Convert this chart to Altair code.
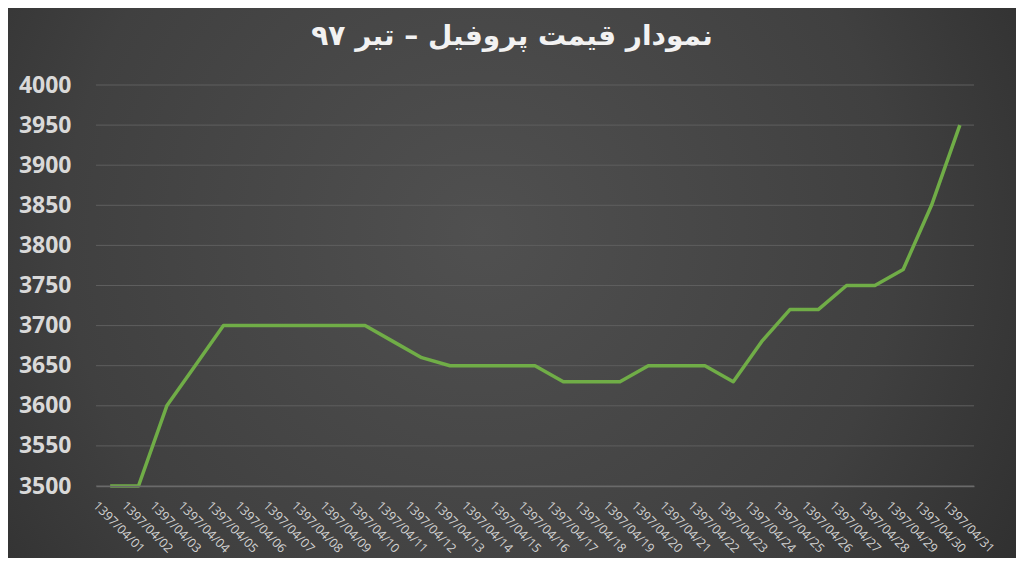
import altair as alt
import pandas as pd

dates = [f"1397/04/{d:02d}" for d in range(1, 32)]
prices = [3500, 3500, 3600, 3650, 3700, 3700, 3700, 3700, 3700, 3700,
          3680, 3660, 3650, 3650, 3650, 3650, 3630, 3630, 3630, 3650,
          3650, 3650, 3630, 3680, 3720, 3720, 3750, 3750, 3770, 3850, 3950]
y_ticks = list(range(3500, 4001, 50))
title_text = "نمودار قیمت پروفیل – تیر ۹۷"

df = pd.DataFrame({"date": dates, "price": prices})
bg_df = pd.DataFrame({"k": [0]})
grid_df = pd.DataFrame({"price": y_ticks})
title_df = pd.DataFrame({"t": [title_text]})

W, H = 878, 401
PL, PT, PR, PB = 88, 77, 42, 72

yscale = alt.Scale(domain=[3500, 4000], nice=False, zero=False)
yaxis = alt.Axis(
    title=None,
    values=y_ticks,
    format="d",
    labelFont="Open Sans",
    labelFontSize=23,
    labelFontWeight="bold",
    labelColor="#d9d9d9",
    labelPadding=25,
    ticks=False,
    domain=False,
    grid=False,
    zindex=1,
)

bg = alt.Chart(bg_df).mark_rect(
    clip=False,
    fill={
        "gradient": "radial",
        "x1": 0.47, "y1": 0.45, "r1": 0,
        "x2": 0.47, "y2": 0.45, "r2": 0.75,
        "stops": [
            {"offset": 0, "color": "#505050"},
            {"offset": 0.55, "color": "#404040"},
            {"offset": 1, "color": "#262626"},
        ],
    },
).encode(
    x=alt.value(-PL), x2=alt.value(W + PR),
    y=alt.value(-PT), y2=alt.value(H + PB),
)

grid = alt.Chart(grid_df).mark_rule(color="#5e5e5e", strokeWidth=1).encode(
    y=alt.Y("price:Q", scale=yscale, axis=yaxis),
    x=alt.value(0), x2=alt.value(W),
)

line = alt.Chart(df).mark_line(
    color="#70ad47", strokeWidth=3.5, strokeJoin="round"
).encode(
    x=alt.X(
        "date:O",
        sort=dates,
        scale=alt.Scale(type="point", padding=0.5),
        axis=alt.Axis(
            title=None,
            labelAngle=45,
            labelAlign="left",
            labelBaseline="top",
            labelOffset=-11,
            labelPadding=13,
            labelFont="Open Sans",
            labelFontSize=12.5,
            labelColor="#d4d4d4",
            ticks=False,
            domain=True,
            domainColor="#6a6a6a",
            domainWidth=1.5,
            grid=False,
            zindex=1,
        ),
    ),
    y=alt.Y("price:Q", scale=yscale, axis=yaxis),
)

title = alt.Chart(title_df).mark_text(
    font="DejaVu Sans",
    fontSize=28,
    fontWeight="bold",
    color="#f2f2f2",
    align="center",
    baseline="middle",
).encode(
    text="t:N",
    x=alt.value(W / 2 - 23),
    y=alt.value(-48),
)

chart = alt.layer(bg, grid, line, title).properties(
    width=W,
    height=H,
    autosize=alt.AutoSizeParams(type="none"),
    padding={"left": PL, "top": PT, "right": PR, "bottom": PB},
    background="#2a2a2a",
).configure_view(stroke=None)

chart.save("out.html", embed_options={"renderer": "svg", "actions": False})
